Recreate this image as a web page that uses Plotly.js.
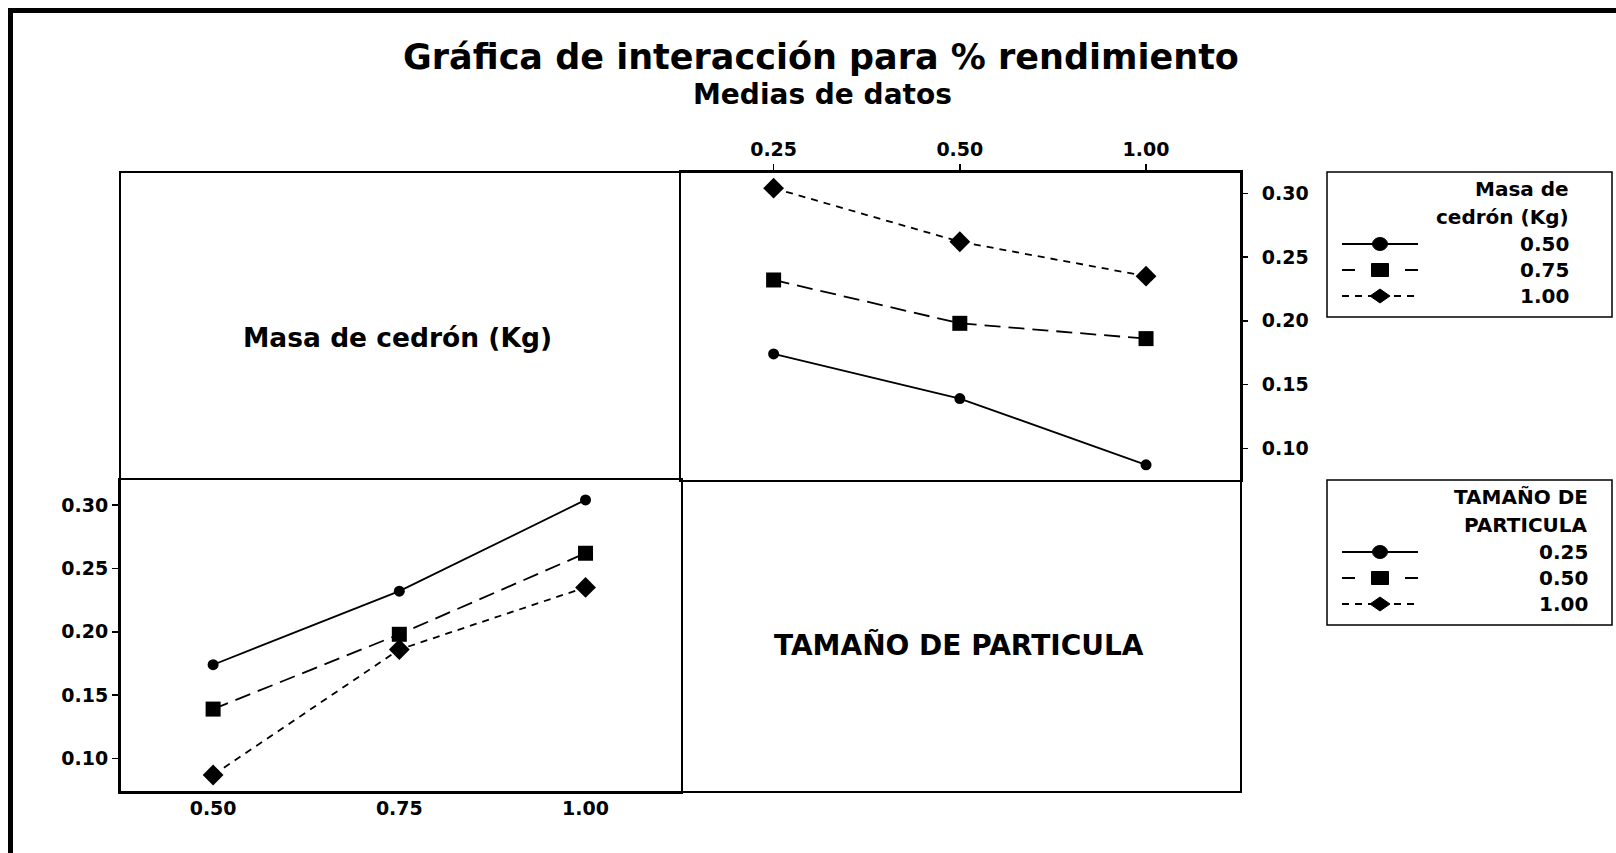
<!DOCTYPE html>
<html>
<head>
<meta charset="utf-8">
<script src="https://cdn.plot.ly/plotly-3.0.1.min.js"></script>
<style>html,body{margin:0;padding:0;background:#fff;}#chart{width:1616px;height:853px;}</style>
</head>
<body>
<div id="chart"></div>
<script>
// ---------------- DATA ----------------
const masaLabels = ['0.50', '0.75', '1.00'];      // Masa de cedrón (Kg)
const tamanoLabels = ['0.25', '0.50', '1.00'];    // TAMAÑO DE PARTICULA
// mean % rendimiento by Masa (rows) and Tamaño (columns 0.25, 0.50, 1.00)
const meansMasa050 = [0.174, 0.139, 0.087];
const meansMasa075 = [0.232, 0.198, 0.186];
const meansMasa100 = [0.304, 0.262, 0.235];
const yTicks = [0.10, 0.15, 0.20, 0.25, 0.30];

const titleText = 'Gráfica de interacción para % rendimiento';
const subtitleText = 'Medias de datos';
const factorA = 'Masa de cedrón (Kg)';
const factorB = 'TAMAÑO DE PARTICULA';
const legendATitle = ['Masa de', 'cedrón (Kg)'];
const legendBTitle = ['TAMAÑO DE', 'PARTICULA'];

// ---------------- STYLE / LAYOUT ----------------
const meansByMasa = [meansMasa050, meansMasa075, meansMasa100];
const styles = [
  {dash: 'solid', legDash: 'solid', symbol: 'circle', size: 11},
  {dash: '16px,8px', legDash: '13px,50px', symbol: 'square', size: 15},
  {dash: '7px,6px', legDash: '7px,6px', symbol: 'diamond', size: 16}
];
const FONT = 'DejaVu Sans';
const L = 120, R = 1241, T = 172, B = 792;
const W = R - L, H = B - T;
const px = x => (x - L) / W;
const py = y => (B - y) / H;
const ySplit = py(480);

const traces = [];
// top-right: x = Tamaño, one line per Masa
meansByMasa.forEach((vals, i) => {
  traces.push({
    x: tamanoLabels, y: vals, xaxis: 'x2', yaxis: 'y2', type: 'scatter', mode: 'lines+markers',
    name: 'Masa ' + masaLabels[i], showlegend: false,
    line: {color: '#000', width: 1.8, dash: styles[i].dash},
    marker: {color: '#000', symbol: styles[i].symbol, size: styles[i].size}
  });
});
// bottom-left: x = Masa, one line per Tamaño
tamanoLabels.forEach((t, j) => {
  traces.push({
    x: masaLabels, y: meansByMasa.map(r => r[j]), xaxis: 'x', yaxis: 'y', type: 'scatter', mode: 'lines+markers',
    name: 'Tamaño ' + t, showlegend: false,
    line: {color: '#000', width: 1.8, dash: styles[j].dash},
    marker: {color: '#000', symbol: styles[j].symbol, size: styles[j].size}
  });
});

const tickFont = {family: FONT, size: 19, color: '#000', weight: 700};
const axBase = {
  showline: true, mirror: true, linecolor: '#000', linewidth: 2,
  showgrid: false, zeroline: false, ticks: 'outside', ticklen: 6, tickwidth: 1.5,
  tickcolor: '#000', tickfont: tickFont, fixedrange: true
};

const shapes = [
  // outer grid frame
  {type: 'rect', xref: 'paper', yref: 'paper', x0: 0, x1: 1, y0: 0, y1: 1, line: {color: '#000', width: 2}},
  // page border (scan edge)
  {type: 'line', xref: 'paper', yref: 'paper', x0: px(10.5), x1: px(10.5), y0: py(8), y1: py(853), line: {color: '#000', width: 5}},
  {type: 'line', xref: 'paper', yref: 'paper', x0: px(8), x1: px(1616), y0: py(10.5), y1: py(10.5), line: {color: '#000', width: 5}}
];
const annotations = [
  {text: subtitleText, xref: 'paper', yref: 'paper', x: px(822), y: py(94), xanchor: 'center', yanchor: 'middle',
   showarrow: false, font: {family: FONT, size: 28, color: '#000', weight: 700}},
  {text: factorA, xref: 'paper', yref: 'paper', x: px(397), y: py(337), xanchor: 'center', yanchor: 'middle',
   showarrow: false, font: {family: FONT, size: 26.5, color: '#000', weight: 700}},
  {text: factorB, xref: 'paper', yref: 'paper', x: px(959), y: py(645), xanchor: 'center', yanchor: 'middle',
   showarrow: false, font: {family: FONT, size: 28, color: '#000', weight: 700}}
];

function addLegend(top, bottom, titleLines, labels, textRight) {
  shapes.push({type: 'rect', xref: 'paper', yref: 'paper', x0: px(1327), x1: px(1612), y0: py(bottom), y1: py(top),
    line: {color: '#000', width: 1.5}});
  const legFont = {family: FONT, size: 20, color: '#000', weight: 700};
  titleLines.forEach((t, k) => {
    annotations.push({text: t, xref: 'paper', yref: 'paper', x: px(textRight), y: py(top + 17 + 28 * k),
      xanchor: 'right', yanchor: 'middle', showarrow: false, font: legFont});
  });
  labels.forEach((lab, k) => {
    const yy = top + 72 + 26 * k;
    annotations.push({text: lab, xref: 'paper', yref: 'paper', x: px(textRight), y: py(yy),
      xanchor: 'right', yanchor: 'middle', showarrow: false, font: legFont});
    shapes.push({type: 'line', xref: 'paper', yref: 'paper', x0: px(1342), x1: px(1418), y0: py(yy), y1: py(yy),
      line: {color: '#000', width: 1.8, dash: styles[k].legDash}});
    const base = {xref: 'paper', yref: 'paper', xsizemode: 'pixel', ysizemode: 'pixel',
      xanchor: px(1380), yanchor: py(yy), fillcolor: '#000', line: {color: '#000', width: 1}};
    if (styles[k].symbol === 'circle') {
      shapes.push(Object.assign({type: 'circle', x0: -7.5, x1: 7.5, y0: -6.5, y1: 6.5}, base));
    } else if (styles[k].symbol === 'square') {
      shapes.push(Object.assign({type: 'rect', x0: -8.5, x1: 8.5, y0: -6.5, y1: 6.5}, base));
    } else {
      shapes.push(Object.assign({type: 'path', path: 'M0,7L10,0L0,-7L-10,0Z'}, base));
    }
  });
}
addLegend(172, 317, legendATitle, masaLabels, 1571);
addLegend(480, 625, legendBTitle, tamanoLabels, 1590);

const layout = {
  width: 1616, height: 853,
  margin: {l: L, r: 1616 - R, t: T, b: 853 - B, pad: 0},
  paper_bgcolor: '#fff', plot_bgcolor: '#fff',
  showlegend: false,
  title: {text: titleText, xref: 'container', yref: 'container', x: 821 / 1616, y: 1 - 57 / 853,
    xanchor: 'center', yanchor: 'middle', font: {family: FONT, size: 35, color: '#000', weight: 700}},
  xaxis: Object.assign({}, axBase, {domain: [0, 0.5], anchor: 'y', type: 'category', range: [-0.5, 2.51], side: 'bottom', ticks: '', ticklabelstandoff: -2}),
  yaxis: Object.assign({}, axBase, {domain: [0, ySplit], anchor: 'x', range: [0.0736, 0.3197], tickvals: yTicks, tickformat: '.2f', side: 'left'}),
  xaxis2: Object.assign({}, axBase, {domain: [0.5, 1], anchor: 'y2', type: 'category', range: [-0.5, 2.51], side: 'top'}),
  yaxis2: Object.assign({}, axBase, {domain: [ySplit, 1], anchor: 'x2', range: [0.0751, 0.3167], tickvals: yTicks, tickformat: '.2f', side: 'right', ticklen: 5, ticklabelstandoff: 10}),
  shapes: shapes,
  annotations: annotations
};

Plotly.newPlot('chart', traces, layout, {displayModeBar: false, staticPlot: true});
</script>
</body>
</html>
